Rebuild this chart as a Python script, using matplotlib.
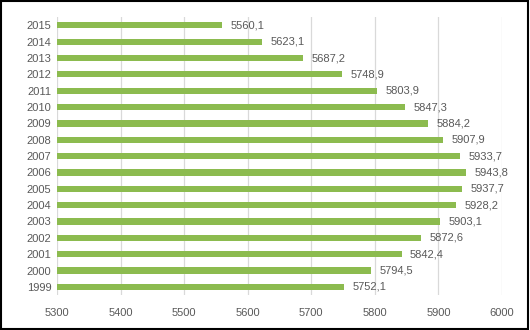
import matplotlib.pyplot as plt
from matplotlib.patches import Rectangle

years = ['1999', '2000', '2001', '2002', '2003', '2004', '2005', '2006', '2007',
         '2008', '2009', '2010', '2011', '2012', '2013', '2014', '2015']
values = [5752.1, 5794.5, 5842.4, 5872.6, 5903.1, 5928.2, 5937.7, 5943.8, 5933.7,
          5907.9, 5884.2, 5847.3, 5803.9, 5748.9, 5687.2, 5623.1, 5560.1]
xticks = [5300, 5400, 5500, 5600, 5700, 5800, 5900, 6000]

plt.rcParams['font.family'] = ['Liberation Sans', 'DejaVu Sans']
text_color = '#595959'

fig = plt.figure(figsize=(5.3, 3.3), dpi=100)
ax = fig.add_axes([0.1075, 0.106, 0.8395, 0.842])

pos = range(len(years))
ax.barh(pos, [v - 5300 for v in values], left=5300, height=0.38,
        color='#8cbb4f', zorder=3)
for p, v in zip(pos, values):
    ax.annotate(f'{v:.1f}'.replace('.', ','), (v, p), xytext=(6, 0),
                textcoords='offset points', va='center', ha='left',
                fontsize=8, color=text_color)

ax.set_xlim(5300, 6000)
ax.set_ylim(-0.5, len(years) - 0.5)
ax.set_xticks(xticks)
ax.set_yticks(list(pos))
ax.set_yticklabels(years)
ax.tick_params(axis='both', length=0, labelsize=8, labelcolor=text_color)
ax.tick_params(axis='x', pad=9)
ax.tick_params(axis='y', pad=4)
ax.grid(axis='x', color='#d9d9d9', linewidth=0.9, zorder=0)
for s in ax.spines.values():
    s.set_visible(False)

# outer frame around the chart
fig.patches.append(Rectangle((0.002, 0.003), 0.995, 0.994, transform=fig.transFigure,
                             fill=False, edgecolor='black', linewidth=1.5))

fig.savefig('out.png', dpi=100)
